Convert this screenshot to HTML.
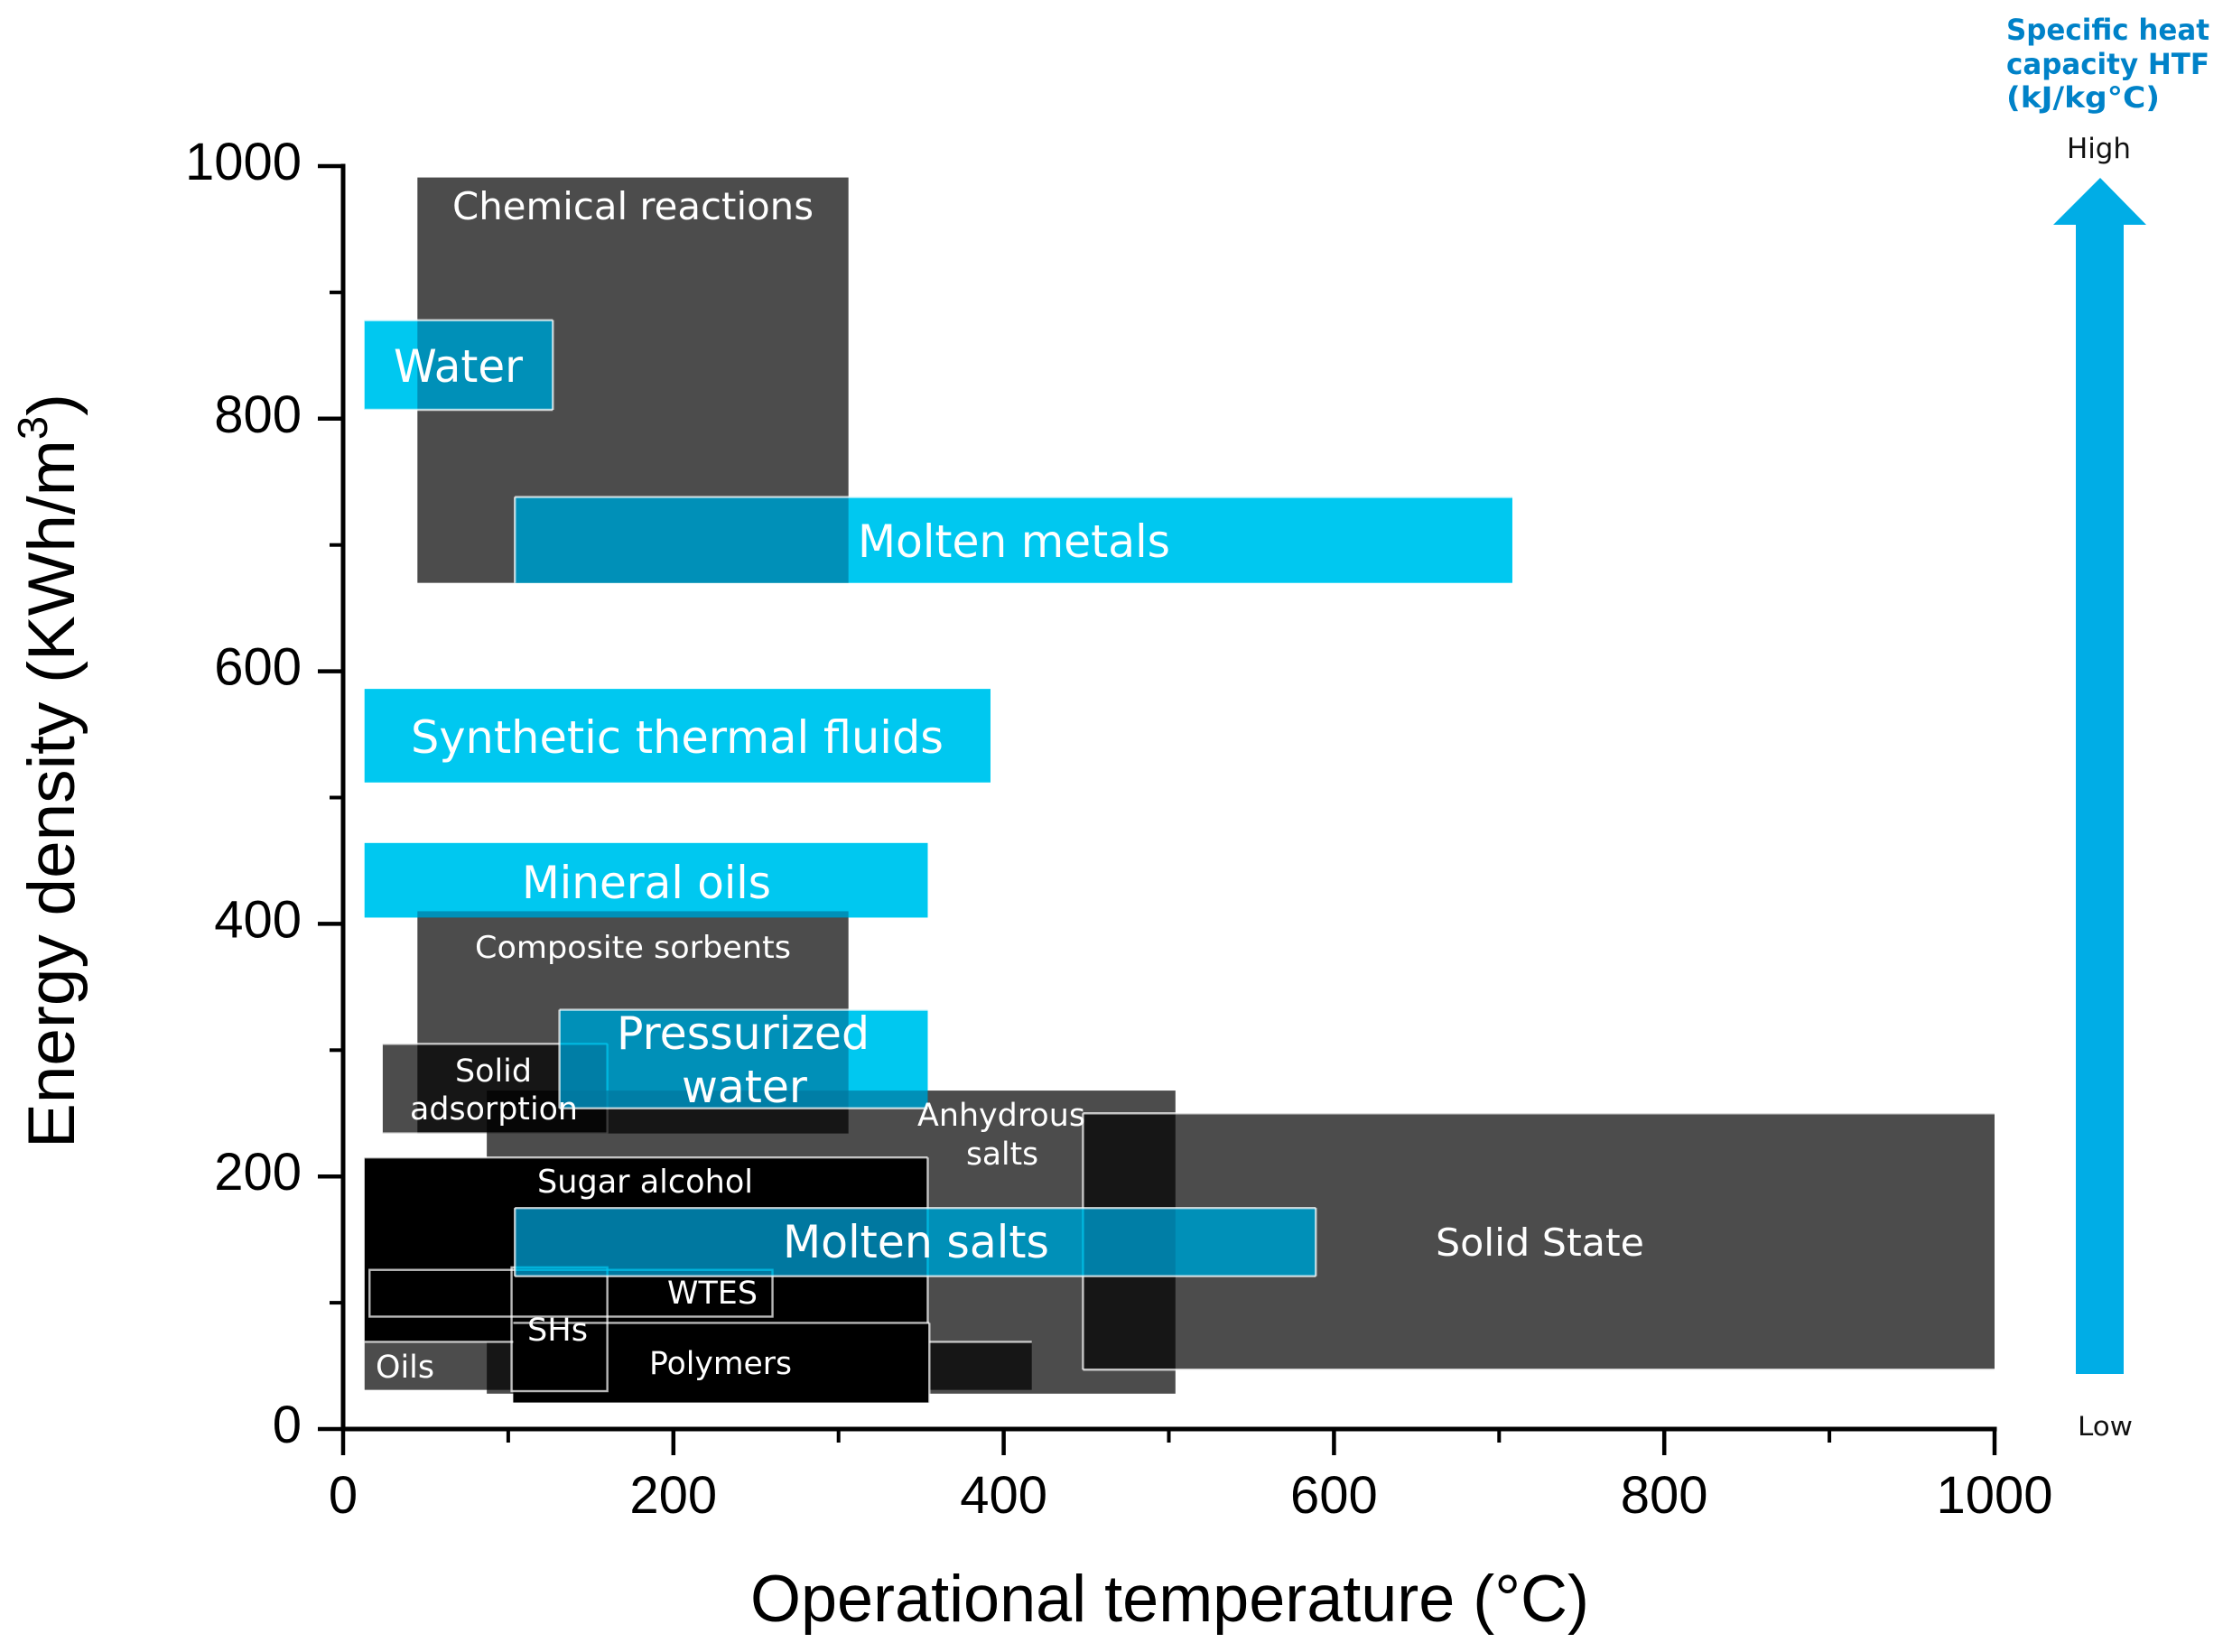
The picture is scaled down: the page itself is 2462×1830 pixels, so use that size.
<!DOCTYPE html>
<html lang="en">
<head>
<meta charset="utf-8">
<title>Energy density vs operational temperature</title>
<style>
html,body{margin:0;padding:0;background:#fff;}
svg{display:block;}
.lbl{font-family:"DejaVu Sans","Liberation Sans",sans-serif;fill:#fff;text-anchor:start;}
.axis-text{font-family:"Liberation Sans",Arial,sans-serif;fill:#000;}
</style>
</head>
<body>
<svg id="chart" xmlns="http://www.w3.org/2000/svg" width="2462" height="1830" viewBox="0 0 2462 1830">
  <rect width="2462" height="1830" fill="#fff"/>
  <g id="marks"></g>
  <g id="axes"></g>

  <g>
    <text class="lbl" x="501" y="243" font-size="42" textLength="400" lengthAdjust="spacingAndGlyphs">Chemical reactions</text>
    <text class="lbl" x="436" y="423" font-size="50" textLength="143" lengthAdjust="spacingAndGlyphs">Water</text>
    <text class="lbl" x="950" y="617" font-size="50" textLength="346" lengthAdjust="spacingAndGlyphs">Molten metals</text>
    <text class="lbl" x="455" y="834" font-size="50" textLength="590" lengthAdjust="spacingAndGlyphs">Synthetic thermal fluids</text>
    <text class="lbl" x="578" y="995" font-size="50" textLength="276" lengthAdjust="spacingAndGlyphs">Mineral oils</text>
    <text class="lbl" x="526" y="1061" font-size="34" textLength="350" lengthAdjust="spacingAndGlyphs">Composite sorbents</text>
    <text class="lbl" x="683" y="1162" font-size="50" textLength="280" lengthAdjust="spacingAndGlyphs">Pressurized</text>
    <text class="lbl" x="755" y="1221" font-size="50" textLength="139" lengthAdjust="spacingAndGlyphs">water</text>
    <text class="lbl" x="504" y="1198" font-size="35" textLength="85" lengthAdjust="spacingAndGlyphs">Solid</text>
    <text class="lbl" x="454" y="1240" font-size="35" textLength="186" lengthAdjust="spacingAndGlyphs">adsorption</text>
    <text class="lbl" x="1016" y="1247" font-size="35" textLength="186" lengthAdjust="spacingAndGlyphs">Anhydrous</text>
    <text class="lbl" x="1070" y="1290" font-size="35" textLength="80" lengthAdjust="spacingAndGlyphs">salts</text>
    <text class="lbl" x="595" y="1321" font-size="36" textLength="239" lengthAdjust="spacingAndGlyphs">Sugar alcohol</text>
    <text class="lbl" x="867" y="1393" font-size="50" textLength="295" lengthAdjust="spacingAndGlyphs">Molten salts</text>
    <text class="lbl" x="1590" y="1391" font-size="42" textLength="231" lengthAdjust="spacingAndGlyphs">Solid State</text>
    <text class="lbl" x="739" y="1444" font-size="35" textLength="100" lengthAdjust="spacingAndGlyphs">WTES</text>
    <text class="lbl" x="584" y="1485" font-size="35" textLength="67" lengthAdjust="spacingAndGlyphs">SHs</text>
    <text class="lbl" x="719" y="1522" font-size="35" textLength="158" lengthAdjust="spacingAndGlyphs">Polymers</text>
    <text class="lbl" x="416" y="1526" font-size="35" textLength="65" lengthAdjust="spacingAndGlyphs">Oils</text>
  </g>

  <text class="axis-text" x="831" y="1796" font-size="73" textLength="929" lengthAdjust="spacingAndGlyphs">Operational temperature (°C)</text>
  <text class="axis-text" transform="translate(82 1272) rotate(-90)" x="0" y="0" font-size="73" textLength="836" lengthAdjust="spacingAndGlyphs">Energy density (KWh/m<tspan font-size="46" dy="-30">3</tspan><tspan dy="30">)</tspan></text>

  <g>
    <text x="2222" y="44" font-family="'DejaVu Sans',sans-serif" font-weight="bold" font-size="32" fill="#0082c8" textLength="225" lengthAdjust="spacingAndGlyphs">Specific heat</text>
    <text x="2222" y="82" font-family="'DejaVu Sans',sans-serif" font-weight="bold" font-size="32" fill="#0082c8" textLength="225" lengthAdjust="spacingAndGlyphs">capacity HTF</text>
    <text x="2222" y="119" font-family="'DejaVu Sans',sans-serif" font-weight="bold" font-size="32" fill="#0082c8" textLength="170" lengthAdjust="spacingAndGlyphs">(kJ/kg°C)</text>
    <text x="2289" y="175" font-family="'DejaVu Sans',sans-serif" font-size="31" fill="#111" textLength="71" lengthAdjust="spacingAndGlyphs">High</text>
    <polygon points="2326,197 2377,249 2352,249 2352,1522 2299,1522 2299,249 2274,249" fill="#00ade6"/>
    <text x="2301" y="1590" font-family="'DejaVu Sans',sans-serif" font-size="29" fill="#111" textLength="61" lengthAdjust="spacingAndGlyphs">Low</text>
  </g>
</svg>

<script>
// Chart data (temperature in °C, energy density in kWh/m3)
const categories = ['Chemical reactions','Composite sorbents','Solid adsorption','Anhydrous salts','Solid State','Sugar alcohol','Oils','Polymers','WTES','SHs','Water','Molten metals','Synthetic thermal fluids','Mineral oils','Pressurized water','Molten salts'];
const tempLow    = [45, 45, 24, 87, 448, 13, 13, 103, 16, 102, 13, 104, 13, 13, 131, 104];
const tempHigh   = [306, 306, 160, 504, 1000, 354, 417, 355, 260, 160, 127, 708, 392, 354, 354, 589];
const energyLow  = [670, 234, 234, 28, 47, 69, 31, 21, 89, 30, 807, 670, 512, 405, 254, 121];
const energyHigh = [991, 410, 305, 268, 250, 215, 69, 84, 126, 128, 878, 738, 586, 464, 332, 175];
const xTickValues = [0, 200, 400, 600, 800, 1000];
const xTickLabels = ['0', '200', '400', '600', '800', '1000'];
const yTickValues = [0, 200, 400, 600, 800, 1000];
const yTickLabels = ['0', '200', '400', '600', '800', '1000'];
const xMinorTicks = [100, 300, 500, 700, 900];
const yMinorTicks = [100, 300, 500, 700, 900];

const SVGNS = 'http://www.w3.org/2000/svg';
const plotLeft = 380, plotRight = 2209, plotBottom = 1583, plotTop = 184;
const xScale = function (v) { return plotLeft + (v / 1000) * (plotRight - plotLeft); };
const yScale = function (v) { return plotBottom - (v / 1000) * (plotBottom - plotTop); };
const marks = document.getElementById('marks');
const axes = document.getElementById('axes');

function slug(s) { return s.toLowerCase().replace(/\s+/g, '-'); }

function blockRect(i, name, fill, opacity, blend, stroke) {
  const el = document.createElementNS(SVGNS, 'rect');
  
  
  el.setAttribute('x', xScale(tempLow[i]));
  el.setAttribute('y', yScale(energyHigh[i]));
  el.setAttribute('width', xScale(tempHigh[i]) - xScale(tempLow[i]));
  el.setAttribute('height', yScale(energyLow[i]) - yScale(energyHigh[i]));
  el.setAttribute('fill', fill);
  el.setAttribute('fill-opacity', opacity);
  if (blend) el.style.mixBlendMode = blend;
  if (stroke) {
    el.setAttribute('stroke', '#fff');
    el.setAttribute('stroke-opacity', '0.72');
    el.setAttribute('stroke-width', '2.4');
  }
  marks.appendChild(el);
}

function edges(cat, sides) {
  const i = categories.indexOf(cat);
  const x0 = xScale(tempLow[i]), x1 = xScale(tempHigh[i]);
  const y0 = yScale(energyHigh[i]), y1 = yScale(energyLow[i]);
  sides.forEach(function (side) {
    const el = document.createElementNS(SVGNS, 'line');
    
    
    el.setAttribute('x1', side === 'right' ? x1 : x0);
    el.setAttribute('x2', side === 'left' ? x0 : x1);
    el.setAttribute('y1', side === 'bottom' ? y1 : y0);
    el.setAttribute('y2', side === 'top' ? y0 : y1);
    el.setAttribute('stroke', '#fff');
    el.setAttribute('stroke-opacity', '0.72');
    el.setAttribute('stroke-width', '2.4');
    marks.appendChild(el);
  });
}

function translucent(cat) {
  const i = categories.indexOf(cat);
  blockRect(i, 'block-' + slug(cat), '#000', 0.7, null, false);
}
function solid(cat) {
  const i = categories.indexOf(cat);
  blockRect(i, 'block-' + slug(cat), '#000', 1, null, false);
}
function outline(cat) {
  const i = categories.indexOf(cat);
  blockRect(i, 'block-' + slug(cat), 'none', 0, null, true);
}
function fluid(cat) {
  const i = categories.indexOf(cat);
  blockRect(i, 'block-tint-' + slug(cat), '#00ffff', 1, 'multiply', false);
  blockRect(i, 'block-' + slug(cat), 'rgb(0,175,233)', 0.686, null, false);
}

translucent('Chemical reactions');
translucent('Composite sorbents');
translucent('Solid adsorption');
edges('Solid adsorption', ['top', 'right', 'bottom']);
translucent('Anhydrous salts');
translucent('Solid State');
edges('Solid State', ['top', 'left', 'bottom']);
solid('Sugar alcohol');
edges('Sugar alcohol', ['top', 'right']);
translucent('Oils');
edges('Oils', ['top']);
solid('Polymers');
edges('Polymers', ['top', 'right']);
outline('WTES');
outline('SHs');
fluid('Water');
edges('Water', ['top', 'right', 'bottom']);
fluid('Molten metals');
edges('Molten metals', ['top', 'left']);
fluid('Synthetic thermal fluids');
fluid('Mineral oils');
fluid('Pressurized water');
edges('Pressurized water', ['top', 'left', 'bottom']);
fluid('Molten salts');
edges('Molten salts', ['top', 'left', 'right', 'bottom']);

function axisLine(name, x1, y1, x2, y2, w) {
  const el = document.createElementNS(SVGNS, 'line');
  
  
  el.setAttribute('x1', x1);
  el.setAttribute('y1', y1);
  el.setAttribute('x2', x2);
  el.setAttribute('y2', y2);
  el.setAttribute('stroke', '#000');
  el.setAttribute('stroke-width', w);
  axes.appendChild(el);
}
function tickText(name, x, y, anchor, content) {
  const el = document.createElementNS(SVGNS, 'text');
  
  
  el.setAttribute('class', 'axis-text');
  el.setAttribute('x', x);
  el.setAttribute('y', y);
  el.setAttribute('text-anchor', anchor);
  el.setAttribute('font-size', '58');
  el.textContent = content;
  axes.appendChild(el);
}

axisLine('y-axis-line', plotLeft, plotTop - 2.5, plotLeft, plotBottom + 2.5, 5);
axisLine('x-axis-line', plotLeft - 2.5, plotBottom, plotRight + 2.5, plotBottom, 5);

xTickValues.forEach(function (v, k) {
  axisLine('x-tick-' + v, xScale(v), plotBottom, xScale(v), plotBottom + 29, 4.5);
  tickText('x-tick-label-' + v, xScale(v), 1676, 'middle', xTickLabels[k]);
});
xMinorTicks.forEach(function (v) {
  axisLine('x-minor-tick-' + v, xScale(v), plotBottom, xScale(v), plotBottom + 15, 4);
});
yTickValues.forEach(function (v, k) {
  axisLine('y-tick-' + v, plotLeft - 28, yScale(v), plotLeft, yScale(v), 4.5);
  tickText('y-tick-label-' + v, 334, yScale(v) + 15, 'end', yTickLabels[k]);
});
yMinorTicks.forEach(function (v) {
  axisLine('y-minor-tick-' + v, plotLeft - 15, yScale(v), plotLeft, yScale(v), 4);
});
</script>
</body>
</html>
